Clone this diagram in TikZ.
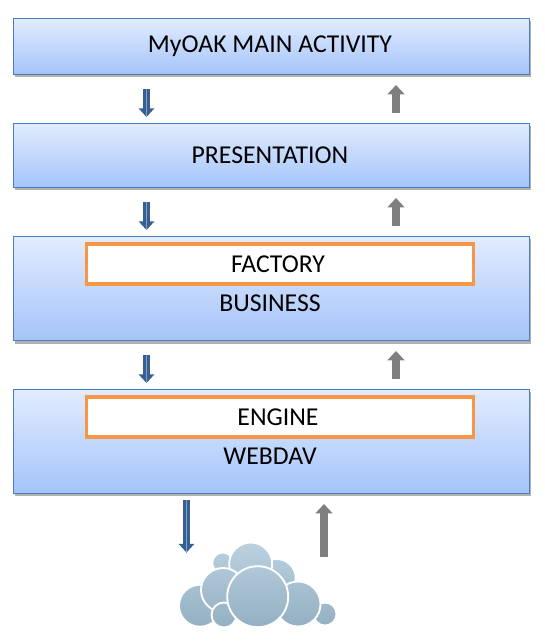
\documentclass[tikz,border=0pt]{standalone}
\usepackage{fontspec}
\setmainfont{Carlito}
\usetikzlibrary{arrows.meta, shadows}

\begin{document}
\begin{tikzpicture}[
		x=0.75pt, y=-0.75pt,
		layer/.style={draw=layerline, line width=0.75pt, top color=layertop, bottom color=layerbottom, minimum width=387pt,
			drop shadow={shadow xshift=1.2pt, shadow yshift=-2pt, fill=black, opacity=0.3}},
		inner box/.style={draw=innerline, line width=2.5pt, fill=white, minimum width=290pt, minimum height=30pt},
		caption/.style={font=\fontsize{19.3pt}{23pt}\selectfont, inner sep=0pt},
		downflow/.style={draw=downblue, line width=5pt, -{Triangle[length=6.5pt, width=11.5pt]}},
		upflow/.style={draw=upgray, line width=6.5pt, -{Triangle[length=7pt, width=12.5pt]}},
		downshine/.style={draw=downshade, line width=0.5pt},
		puff/.style={draw=white, line width=1.4pt}
	]
	\definecolor{layerline}{HTML}{4A7EBB}
	\definecolor{layertop}{HTML}{E2ECFE}
	\definecolor{layerbottom}{HTML}{A5C4FA}
	\definecolor{innerline}{HTML}{F79646}
	\definecolor{downblue}{HTML}{376092}
	\definecolor{downshade}{HTML}{7F9FC6}
	\definecolor{upgray}{HTML}{7F7F7F}
	\definecolor{cloudtop}{HTML}{BBD1E0}
	\definecolor{cloudbottom}{HTML}{93B0C2}
	\useasboundingbox (0,0) rectangle (545,643);

	\node[layer, minimum height=42pt] (activity) at (271,46) {};
	\node[layer, minimum height=48pt] (presentation) at (271,155) {};
	\node[layer, minimum height=78.5pt] (business) at (271,288.5) {};
	\node[layer, minimum height=78pt] (webdav) at (271,441) {};
	\node[inner box] (factory) at (280,264) {};
	\node[inner box] (engine) at (280,417) {};

	\node[caption] (activitytext) at (270,46) {MyOAK MAIN ACTIVITY};
	\node[caption] (presentationtext) at (270,155) {PRESENTATION};
	\node[caption] (factorytext) at (278,264) {FACTORY};
	\node[caption] (businesstext) at (270,303) {BUSINESS};
	\node[caption] (enginetext) at (278,417) {ENGINE};
	\node[caption] (webdavtext) at (270,456) {WEBDAV};

	% flows between the layers
	\foreach \flow/\xdown/\xup/\ytop in {a/146.5/396/89, b/146.5/396/202, c/146.5/396/355} {
		\coordinate (down\flow s) at (\xdown,\ytop);
		\coordinate (down\flow e) at (\xdown,\ytop+28);
		\coordinate (up\flow s) at (\xup,\ytop+24);
		\coordinate (up\flow e) at (\xup,\ytop-4);
		\draw[downflow] (down\flow s) -- (down\flow e);
		\draw[downshine] (down\flow s) -- (down\flow e);
		\draw[upflow] (up\flow s) -- (up\flow e);
	}
	\coordinate (downds) at (186.5,500);
	\coordinate (downde) at (186.5,552.5);
	\coordinate (upds) at (324,557);
	\coordinate (upde) at (324,504);
	\draw[downflow] (downds) -- (downde);
	\draw[downshine] (downds) -- (downde);
	\draw[upflow] (upds) -- (upde);

	% cloud, shaded top to bottom as one shape
	\foreach \cx/\cy/\r in {222.7/563/10.5, 276.7/578/19, 250.7/564/21.5, 325/614/11.5, 298/604/22.5, 200/605.7/21, 223/590/22, 224/615/12.5, 257.7/596.7/30.5} {
		\pgfmathtruncatemacro{\shadea}{max(0,min(100,(\cy-\r-543)/0.83))}
		\pgfmathtruncatemacro{\shadeb}{max(0,min(100,(\cy+\r-543)/0.83))}
		\draw[puff, top color=cloudbottom!\shadea!cloudtop, bottom color=cloudbottom!\shadeb!cloudtop] (\cx,\cy) circle [radius=\r];
	}
\end{tikzpicture}
\end{document}
